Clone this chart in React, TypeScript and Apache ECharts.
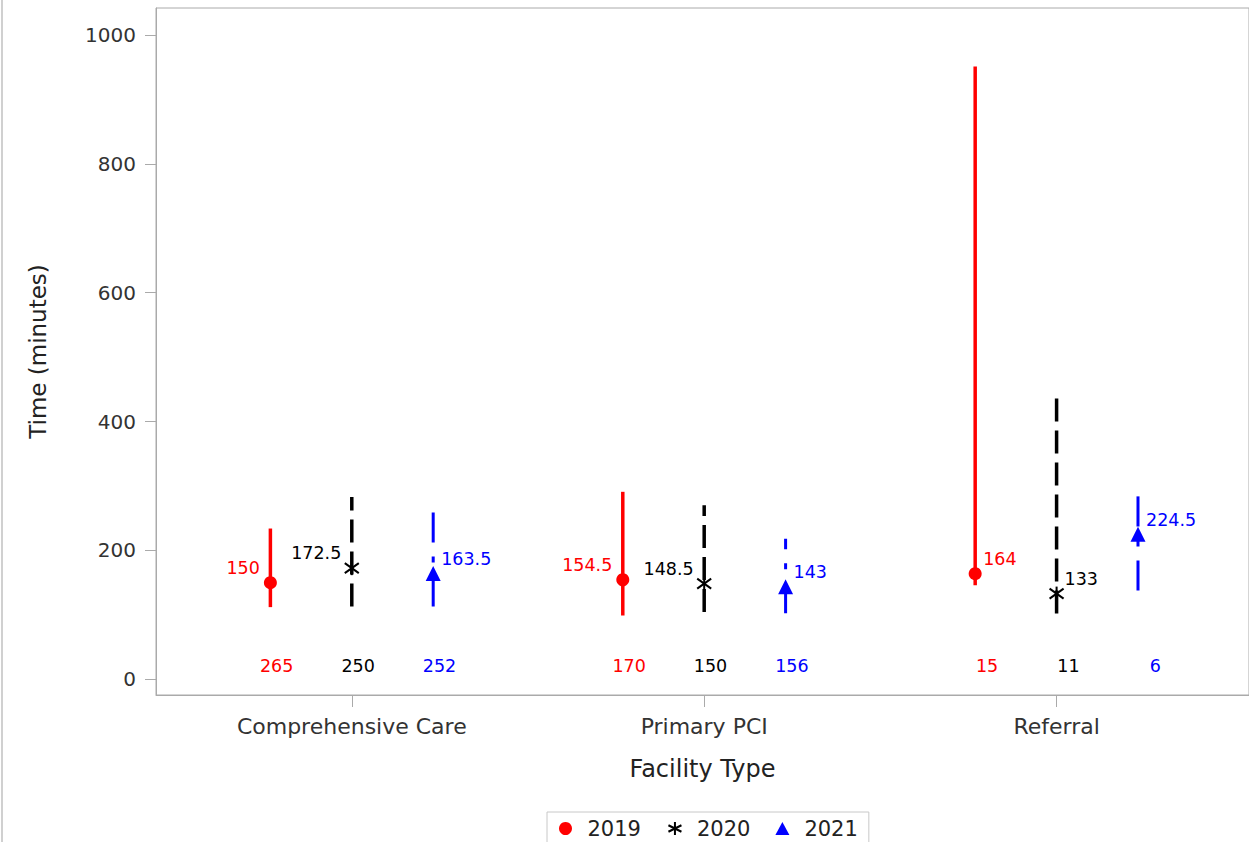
import React, { useEffect, useRef } from "react";
import * as echarts from "echarts";

// ---- Data ----
const categories = ["Comprehensive Care", "Primary PCI", "Referral"];
const years = ["2019", "2020", "2021"];

const low2019 = [112, 99, 146];
const high2019 = [234, 291, 951];
const median2019 = [150, 154.5, 164];
const count2019 = [265, 170, 15];

const low2020 = [113, 104.5, 102];
const high2020 = [283, 270, 444];
const median2020 = [172.5, 148.5, 133];
const count2020 = [250, 150, 11];

const low2021 = [113, 102.5, 138];
const high2021 = [278, 218, 304];
const median2021 = [163.5, 143, 224.5];
const count2021 = [252, 156, 6];

const yTicks = [0, 200, 400, 600, 800, 1000];

// ---- Styles ----
const FONT = "DejaVu Sans";
const colors = ["#ff0000", "#000000", "#0000ff"];
const dashes: (number[] | null)[] = [null, [23, 9], [30, 14, 6, 14]];
const lineWidths = [3.5, 3.5, 3];
const yearOffsets = [-0.231, 0, 0.231];
const labelSides = [
  ["left", "left", "right"],
  ["left", "left", "right"],
  ["right", "right", "right"],
];

const lows = [low2019, low2020, low2021];
const highs = [high2019, high2020, high2021];
const medians = [median2019, median2020, median2021];
const counts = [count2019, count2020, count2021];

function markerFor(k: number, x: number, y: number) {
  const c = colors[k];
  if (k === 0) {
    return { type: "circle", shape: { cx: x, cy: y, r: 6.5 }, style: { fill: c } };
  }
  if (k === 1) {
    return {
      type: "group",
      children: [
        { type: "line", shape: { x1: x, y1: y - 7, x2: x, y2: y + 7 }, style: { stroke: c, lineWidth: 2 } },
        { type: "line", shape: { x1: x - 7, y1: y - 5, x2: x + 7, y2: y + 5 }, style: { stroke: c, lineWidth: 2 } },
        { type: "line", shape: { x1: x - 7, y1: y + 5, x2: x + 7, y2: y - 5 }, style: { stroke: c, lineWidth: 2 } },
      ],
    };
  }
  return {
    type: "polygon",
    shape: { points: [[x, y - 8], [x - 7.5, y + 7], [x + 7.5, y + 7]] },
    style: { fill: c },
  };
}

function makeSeries(k: number) {
  const data = categories.map((_, i) => [i, lows[k][i], highs[k][i], medians[k][i], counts[k][i]]);
  return {
    type: "custom",
    name: years[k],
    data,
    encode: { x: 0, y: [1, 2, 3] },
    itemStyle: { color: colors[k] },
    renderItem: (params: any, api: any) => {
      const ci = api.value(0);
      const xv = ci + yearOffsets[k];
      const pLow = api.coord([xv, api.value(1)]);
      const pHigh = api.coord([xv, api.value(2)]);
      const pMed = api.coord([xv, api.value(3)]);
      const p0 = api.coord([xv, 0]);
      const x = pLow[0];
      const side = labelSides[k][ci];
      const lineStyle: any = { stroke: colors[k], lineWidth: lineWidths[k], lineCap: "butt" };
      if (dashes[k]) lineStyle.lineDash = dashes[k];
      return {
        type: "group",
        children: [
          { type: "line", shape: { x1: x, y1: pLow[1], x2: x, y2: pHigh[1] }, style: lineStyle },
          markerFor(k, x, pMed[1]),
          {
            type: "text",
            x: side === "left" ? x - 10.5 : x + 8,
            y: pMed[1] - 15,
            style: {
              text: String(api.value(3)),
              fill: colors[k],
              font: `17.5px '${FONT}'`,
              align: side === "left" ? "right" : "left",
              verticalAlign: "middle",
            },
          },
          {
            type: "text",
            x: x + 23,
            y: p0[1] - 13,
            style: {
              text: String(api.value(4)),
              fill: colors[k],
              font: `17.5px '${FONT}'`,
              align: "right",
              verticalAlign: "middle",
            },
          },
        ],
      };
    },
  };
}

export default function App() {
  const ref = useRef<HTMLDivElement>(null);
  useEffect(() => {
    if (!ref.current) return;
    const chart = echarts.init(ref.current, null, { renderer: "svg" });
    const axisGray = "#aaaaaa";
    chart.setOption({
      animation: false,
      backgroundColor: "#ffffff",
      textStyle: { fontFamily: FONT },
      grid: {
        left: 156,
        top: 8,
        right: -5,
        bottom: 147,
        show: true,
        borderColor: axisGray,
        borderWidth: 1,
        backgroundColor: "transparent",
      },
      xAxis: {
        type: "value",
        min: -0.5556,
        max: 2.546,
        name: "Facility Type",
        nameLocation: "middle",
        nameGap: 62,
        nameTextStyle: { fontSize: 24, color: "#222", fontFamily: FONT },
        axisLine: { show: true, onZero: false, lineStyle: { color: axisGray } },
        axisTick: { show: true, length: 12, customValues: [0, 1, 2], lineStyle: { color: axisGray } },
        axisLabel: {
          customValues: [0, 1, 2],
          formatter: (v: number) => categories[Math.round(v)] ?? "",
          fontSize: 22,
          color: "#333",
          margin: 20,
          fontFamily: FONT,
        },
        splitLine: { show: false },
      },
      yAxis: {
        type: "value",
        min: -24.4,
        max: 1042,
        name: "Time (minutes)",
        nameLocation: "middle",
        nameGap: 107,
        nameTextStyle: { fontSize: 23, color: "#222", fontFamily: FONT },
        axisLine: { show: true, onZero: false, lineStyle: { color: axisGray } },
        axisTick: { show: true, length: 11, customValues: yTicks, lineStyle: { color: axisGray } },
        axisLabel: {
          customValues: yTicks,
          formatter: (v: number) => String(v),
          fontSize: 20,
          color: "#333",
          margin: 20,
          fontFamily: FONT,
        },
        splitLine: { show: false },
      },
      legend: {
        left: 547,
        top: 812,
        orient: "horizontal",
        padding: [6, 11, 6, 12],
        itemGap: 25,
        itemWidth: 14,
        itemHeight: 13,
        borderColor: "#c8c8c8",
        borderWidth: 1,
        backgroundColor: "#ffffff",
        selectedMode: false,
        textStyle: { fontSize: 21, color: "#222", fontFamily: FONT, padding: [0, 0, 0, 10] },
        data: [
          { name: years[0], icon: "circle", itemStyle: { color: colors[0] } },
          {
            name: years[1],
            icon: "path://M7,0 L7,14 M0,3.5 L14,10.5 M0,10.5 L14,3.5",
            itemStyle: { color: "none", borderColor: colors[1], borderWidth: 2 },
          },
          { name: years[2], icon: "triangle", itemStyle: { color: colors[2] } },
        ],
      },
      graphic: [
        {
          type: "line",
          shape: { x1: 2, y1: 0, x2: 2, y2: 842 },
          style: { stroke: "#d0d0d0", lineWidth: 2 },
          silent: true,
        },
      ],
      series: [makeSeries(0), makeSeries(1), makeSeries(2)],
    });
    return () => chart.dispose();
  }, []);
  return (
    <div
      ref={ref}
      style={{ position: "absolute", left: 0, top: 0, width: 1249, height: 842 }}
    />
  );
}
